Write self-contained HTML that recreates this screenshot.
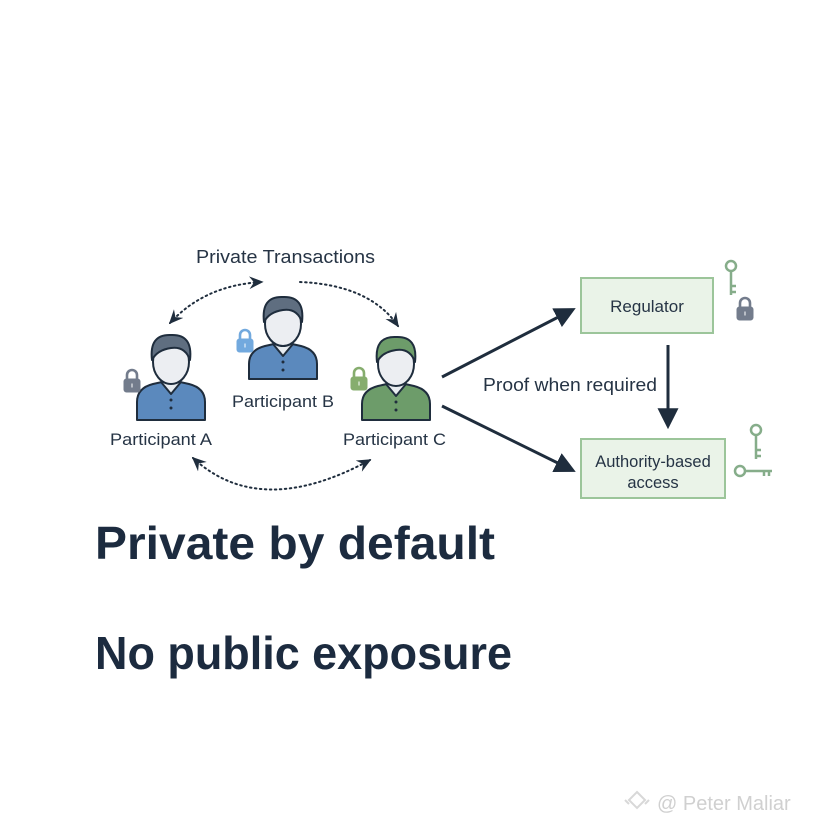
<!DOCTYPE html>
<html><head><style>
html,body{margin:0;padding:0;background:#fff;}
svg{display:block;font-family:"Liberation Sans",sans-serif;}
</style></head><body>
<svg width="828" height="828" viewBox="0 0 828 828" xmlns="http://www.w3.org/2000/svg">
<defs>
<marker id="ah" viewBox="0 0 10 10" refX="8" refY="5" markerWidth="7" markerHeight="7" orient="auto"><path d="M0,0L10,5L0,10z" fill="#1f2d3d"/></marker>
<marker id="dh" viewBox="0 0 10 10" refX="8" refY="5" markerWidth="8" markerHeight="8" orient="auto-start-reverse"><path d="M0,1L9,5L0,9L3,5z" fill="#1f2d3d"/></marker>
<g id="lock"><rect x="-8" y="-3" width="16" height="13" rx="2.5"/><path d="M-5,-3v-4a5,5 0 0 1 10,0v4" fill="none" stroke-width="2.6" stroke="inherit"/><rect x="-1" y="1" width="2" height="5" fill="#fff"/></g>
</defs>
<rect width="828" height="828" fill="#fff"/>
<text x="196" y="263" font-size="18.5" fill="#263445" textLength="179" lengthAdjust="spacingAndGlyphs">Private Transactions</text>
<g fill="none" stroke="#1f2d3d" stroke-width="2" stroke-dasharray="1.5 3.5" stroke-linecap="round">
<path d="M170,323 Q205,285 262,282" marker-start="url(#dh)" marker-end="url(#dh)"/>
<path d="M300,282 Q370,285 398,326" marker-end="url(#dh)"/>
<path d="M193,458 Q260,520 370,460" marker-start="url(#dh)" marker-end="url(#dh)"/>
</g>
<g stroke="#1f2d3d" stroke-width="2" stroke-linejoin="round">
 <g transform="translate(171,362)">
  <path d="M-34,58 V40 Q-34,26 -18,22 L0,18 L18,22 Q34,26 34,40 V58 Z" fill="#5b89bd"/>
  <path d="M-10,20 L0,32 L10,20 L0,16Z" fill="#e8ecf0"/>
  <ellipse cx="0" cy="0" rx="18" ry="22" fill="#eceef2"/>
  <path d="M-19,-2 Q-22,-28 0,-27 Q22,-28 19,-2 Q14,-16 0,-14 Q-14,-12 -19,-2Z" fill="#5f6e80"/>
  <circle cx="0" cy="38" r="1.5" fill="#1f2d3d" stroke="none"/><circle cx="0" cy="46" r="1.5" fill="#1f2d3d" stroke="none"/>
 </g>
 <g transform="translate(283,324)">
  <path d="M-34,55 V40 Q-34,26 -18,22 L0,18 L18,22 Q34,26 34,40 V55 Z" fill="#5b89bd"/>
  <path d="M-10,20 L0,32 L10,20 L0,16Z" fill="#e8ecf0"/>
  <ellipse cx="0" cy="0" rx="18" ry="22" fill="#eceef2"/>
  <path d="M-19,-2 Q-22,-28 0,-27 Q22,-28 19,-2 Q14,-16 0,-14 Q-14,-12 -19,-2Z" fill="#5f6e80"/>
  <circle cx="0" cy="38" r="1.5" fill="#1f2d3d" stroke="none"/><circle cx="0" cy="46" r="1.5" fill="#1f2d3d" stroke="none"/>
 </g>
 <g transform="translate(396,364)">
  <path d="M-34,56 V40 Q-34,26 -18,22 L0,18 L18,22 Q34,26 34,40 V56 Z" fill="#6d9c6a"/>
  <path d="M-10,20 L0,32 L10,20 L0,16Z" fill="#e8ecf0"/>
  <ellipse cx="0" cy="0" rx="18" ry="22" fill="#eceef2"/>
  <path d="M-19,-2 Q-22,-28 0,-27 Q22,-28 19,-2 Q14,-16 0,-14 Q-14,-12 -19,-2Z" fill="#6d9c6a"/>
  <circle cx="0" cy="38" r="1.5" fill="#1f2d3d" stroke="none"/><circle cx="0" cy="46" r="1.5" fill="#1f2d3d" stroke="none"/>
 </g>
</g>
<g fill="#737c8c" stroke="#737c8c" transform="translate(132,382)"><use href="#lock"/></g>
<g fill="#72a9de" stroke="#72a9de" transform="translate(245,342)"><use href="#lock"/></g>
<g fill="#86ad6e" stroke="#86ad6e" transform="translate(359,380)"><use href="#lock"/></g>
<g fill="#737c8c" stroke="#737c8c" transform="translate(745,310)"><use href="#lock"/></g>
<text x="110" y="445" font-size="17" fill="#263445" textLength="102" lengthAdjust="spacingAndGlyphs">Participant A</text>
<text x="232" y="407" font-size="17" fill="#263445" textLength="102" lengthAdjust="spacingAndGlyphs">Participant B</text>
<text x="343" y="445" font-size="17" fill="#263445" textLength="103" lengthAdjust="spacingAndGlyphs">Participant C</text>
<rect x="581" y="278" width="132" height="55" fill="#eaf3e8" stroke="#9cc59a" stroke-width="2"/>
<text x="647" y="312" font-size="17" fill="#263445" text-anchor="middle">Regulator</text>
<rect x="581" y="439" width="144" height="59" fill="#eaf3e8" stroke="#9cc59a" stroke-width="2"/>
<text x="653" y="467" font-size="16.5" fill="#263445" text-anchor="middle">Authority-based</text>
<text x="653" y="488" font-size="16.5" fill="#263445" text-anchor="middle">access</text>
<g stroke="#1f2d3d" stroke-width="3" fill="none">
<line x1="442" y1="377" x2="572" y2="310" marker-end="url(#ah)"/>
<line x1="442" y1="406" x2="572" y2="470" marker-end="url(#ah)"/>
<line x1="668" y1="345" x2="668" y2="425" marker-end="url(#ah)"/>
</g>
<text x="483" y="391" font-size="18" fill="#263445" textLength="174" lengthAdjust="spacingAndGlyphs">Proof when required</text>
<g stroke="#86ad8a" stroke-width="2.5" fill="none">
<circle cx="731" cy="266" r="5"/><path d="M731,271 V295 M731,286 h5 M731,292 h5"/>
<circle cx="756" cy="430" r="5"/><path d="M756,435 V459 M756,450 h5 M756,456 h5"/>
<circle cx="740" cy="471" r="5"/><path d="M745,471 H772 M764,471 v5 M769,471 v5"/>
</g>
<text x="95" y="559" font-size="46" font-weight="bold" fill="#1c2b3f" textLength="400" lengthAdjust="spacingAndGlyphs">Private by default</text>
<text x="95" y="669" font-size="46" font-weight="bold" fill="#1c2b3f" textLength="417" lengthAdjust="spacingAndGlyphs">No public exposure</text>
<text x="657" y="810" font-size="20" fill="#d0d0d0">@ Peter Maliar</text>
<g fill="none" stroke="#d8d8d8" stroke-width="2"><path d="M637,792 l8,8 l-8,8 l-8,-8z M625,800 l4,4 M649,800 l-4,4"/></g>
</svg>
</body></html>
